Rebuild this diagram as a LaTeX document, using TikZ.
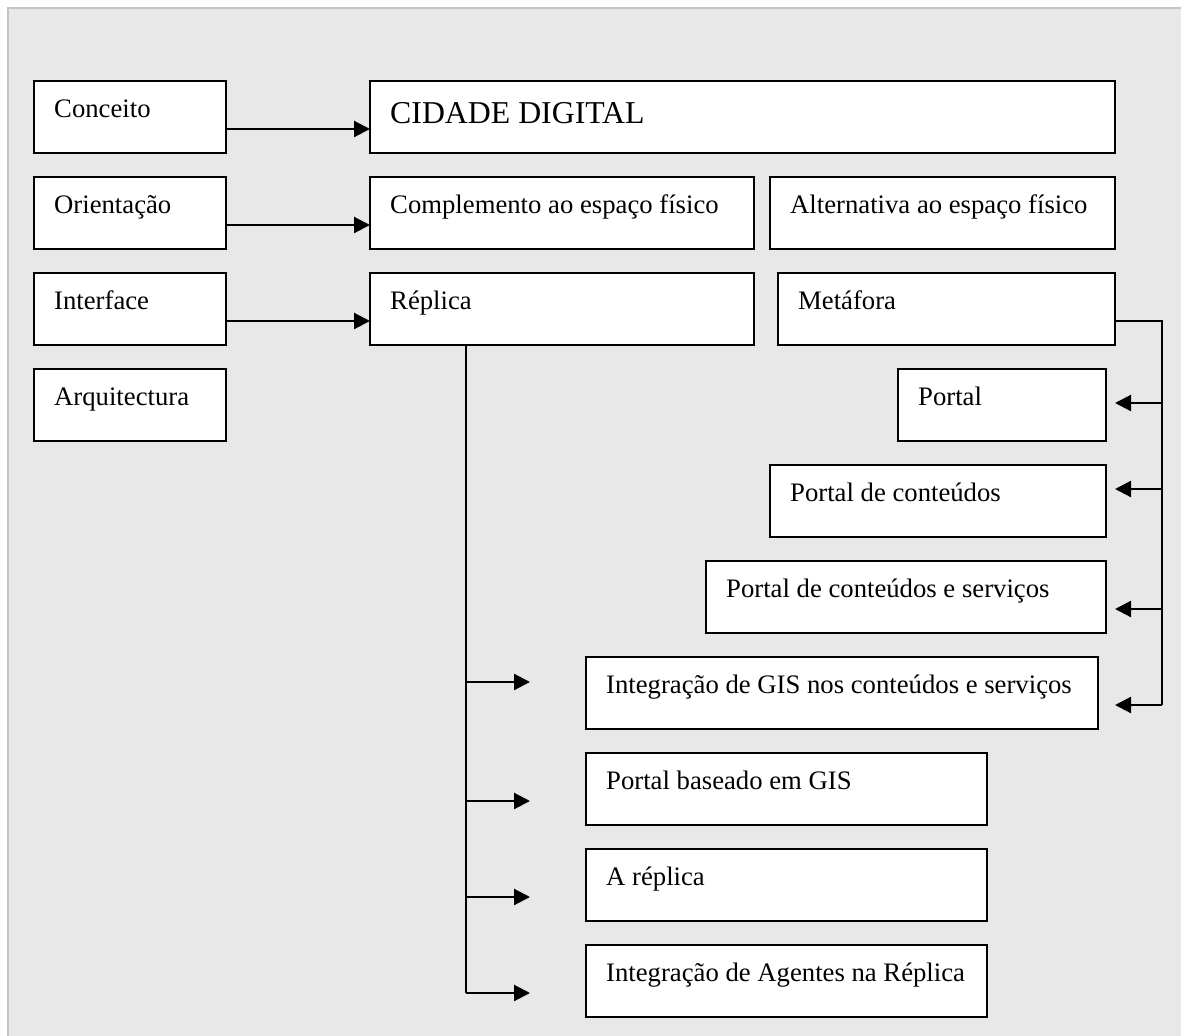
\documentclass[tikz,border=0pt]{standalone}
\usepackage{fontspec}
\setmainfont{Liberation Serif}
\usetikzlibrary{arrows.meta}
\definecolor{panel}{HTML}{E8E8E8}
\definecolor{panelrule}{HTML}{C4C4C4}
\begin{document}
\begin{tikzpicture}[x=1pt,y=-1pt,
  box/.style={draw=black,fill=white,line width=2.4pt,inner sep=0pt,outer sep=0pt,anchor=north west},
  lbl/.style={anchor=base west,inner sep=0pt,font=\fontsize{26.7}{30}\selectfont},
  wire/.style={line width=2.2pt},
  arr/.style={line width=2.2pt,-{Triangle[length=16pt 0,width=16pt 0]}}]
% page and panel
\useasboundingbox (0,0) rectangle (1181,1036);
\fill[white] (0,0) rectangle (1181,1036);
\begin{scope}
\clip (0,0) rectangle (1181,1036);
\draw[panelrule,fill=panel,line width=2pt] (8,8) rectangle (1200,1060);
\end{scope}
% box with text set near its top-left corner
\newcommand\dbox[7][36]{%
  \node[box,minimum width=#5pt,minimum height=#6pt] (#2) at (#3,#4) {};
  \path (#2.north west) ++(20pt,-#1pt) node[lbl] {#7};}
% left column
\dbox{conceito}{34}{81}{192}{72}{Conceito}
\dbox{orient}{34}{177}{192}{72}{Orientação}
\dbox{interf}{34}{273}{192}{72}{Interface}
\dbox{arquit}{34}{369}{192}{72}{Arquitectura}
% top rows
\node[box,minimum width=745pt,minimum height=72pt] (cidade) at (370,81) {};
\path (cidade.north west) ++(20pt,-42pt) node[anchor=base west,inner sep=0pt,font=\fontsize{31.8}{36}\selectfont] {CIDADE DIGITAL};
\dbox{complem}{370}{177}{384}{72}{Complemento ao espaço físico}
\dbox{altern}{770}{177}{345}{72}{Alternativa ao espaço físico}
\dbox{replica}{370}{273}{384}{72}{Réplica}
\dbox{metafora}{778}{273}{337}{72}{Metáfora}
% metaphor branch
\dbox{portal}{898}{369}{208}{72}{Portal}
\dbox{pconte}{770}{465}{336}{72}{Portal de conteúdos}
\dbox{pserv}{706}{561}{400}{72}{Portal de conteúdos e serviços}
\dbox{gis}{586}{657}{512}{72}{Integração de GIS nos conteúdos e serviços}
% replica branch
\dbox{pgis}{586}{753}{401}{72}{Portal baseado em GIS}
\dbox{arep}{586}{849}{401}{72}{A réplica}
\dbox{agent}{586}{945}{401}{72}{Integração de Agentes na Réplica}
% level arrows
\draw[arr] ([yshift=-12pt]conceito.east) -- ([yshift=-12pt]cidade.west);
\draw[arr] ([yshift=-12pt]orient.east) -- ([yshift=-12pt]complem.west);
\draw[arr] ([yshift=-12pt]interf.east) -- ([yshift=-12pt]replica.west);
% metaphor spine
\coordinate (m0) at ([yshift=-12pt]metafora.east);
\coordinate (mr) at ([xshift=47pt]m0);
\coordinate (t1) at ([yshift=2pt]portal.east);
\coordinate (t2) at ([yshift=12pt]pconte.east);
\coordinate (t3) at ([yshift=-12pt]pserv.east);
\coordinate (t4) at ([yshift=-12pt]gis.east);
\draw[wire] (m0) -- (mr) -- (mr |- t4);
\draw[arr,shorten >=9pt] (mr |- t1) -- (t1);
\draw[arr,shorten >=9pt] (mr |- t2) -- (t2);
\draw[arr,shorten >=9pt] (mr |- t3) -- (t3);
\draw[arr,shorten >=17pt] (mr |- t4) -- (t4);
% replica spine
\coordinate (r0) at (466,345);
\coordinate (s1) at ([yshift=11pt]gis.west);
\coordinate (s2) at ([yshift=-12pt]pgis.west);
\coordinate (s3) at ([yshift=-12pt]arep.west);
\coordinate (s4) at ([yshift=-12pt]agent.west);
\draw[wire] (r0) -- (r0 |- s4);
\draw[arr,shorten >=56pt] (r0 |- s1) -- (s1);
\draw[arr,shorten >=56pt] (r0 |- s2) -- (s2);
\draw[arr,shorten >=56pt] (r0 |- s3) -- (s3);
\draw[arr,shorten >=56pt] (r0 |- s4) -- (s4);
\end{tikzpicture}
\end{document}
